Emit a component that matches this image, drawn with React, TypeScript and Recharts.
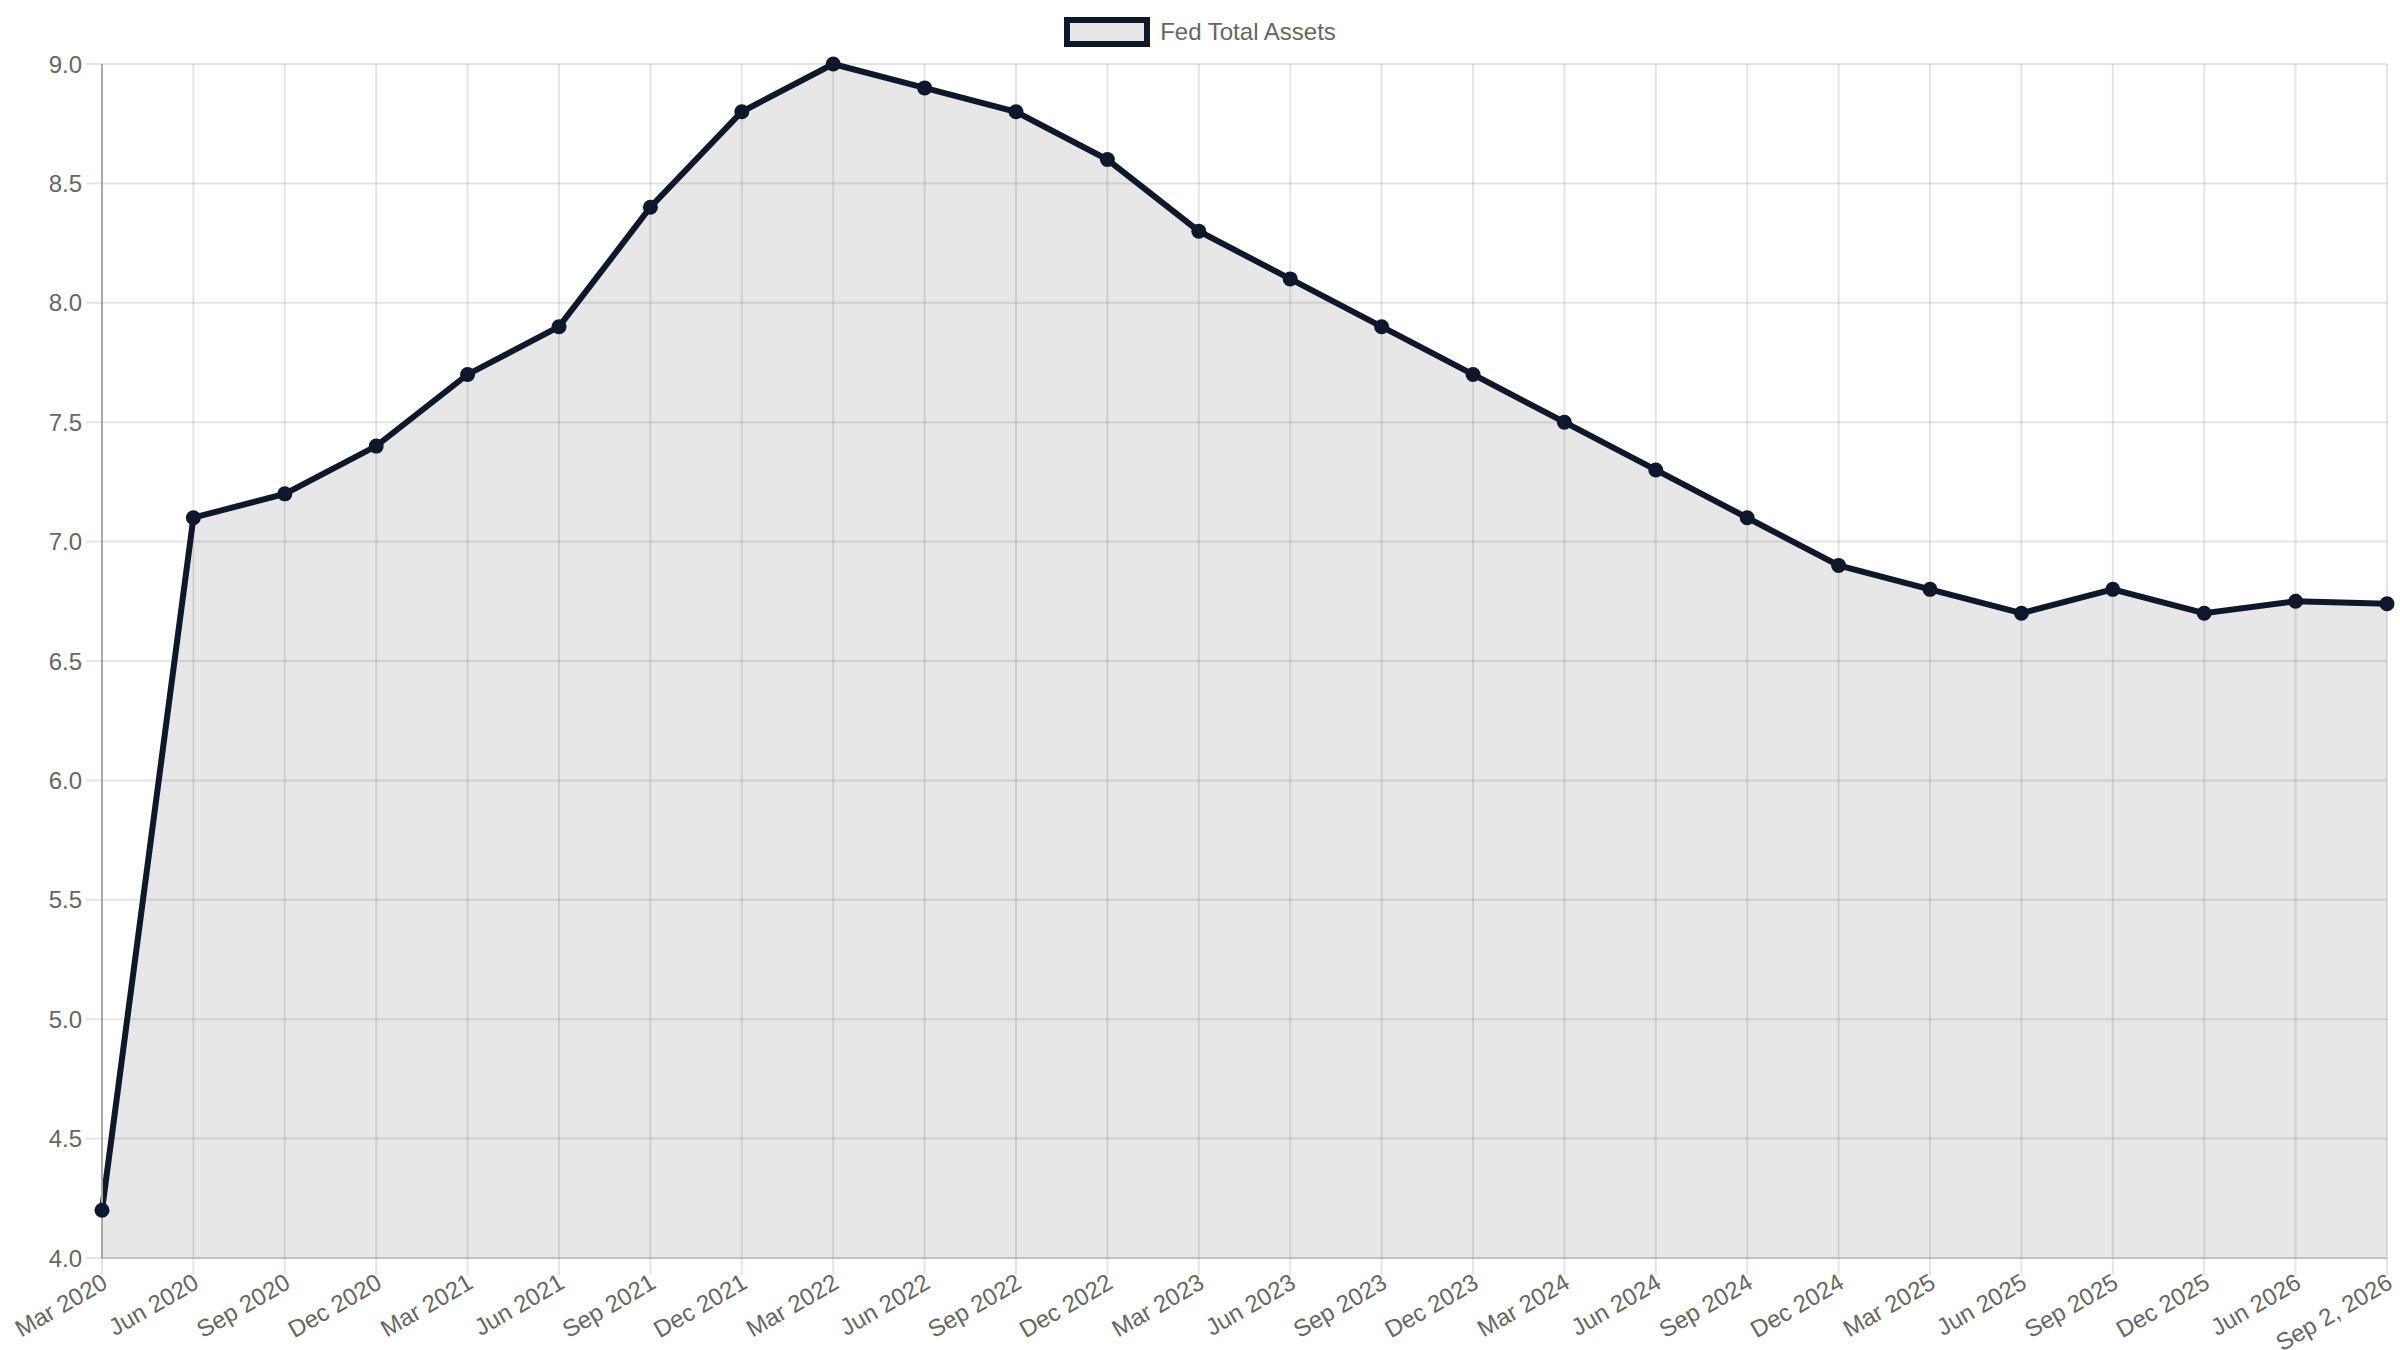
import React from "react";
import { AreaChart, Area, XAxis, YAxis, CartesianGrid } from "recharts";

const quarters = [
  "Mar 2020", "Jun 2020", "Sep 2020", "Dec 2020",
  "Mar 2021", "Jun 2021", "Sep 2021", "Dec 2021",
  "Mar 2022", "Jun 2022", "Sep 2022", "Dec 2022",
  "Mar 2023", "Jun 2023", "Sep 2023", "Dec 2023",
  "Mar 2024", "Jun 2024", "Sep 2024", "Dec 2024",
  "Mar 2025", "Jun 2025", "Sep 2025", "Dec 2025",
  "Jun 2026", "Sep 2, 2026",
];

// Fed total assets, trillions USD
const assets = [
  4.2, 7.1, 7.2, 7.4,
  7.7, 7.9, 8.4, 8.8,
  9.0, 8.9, 8.8, 8.6,
  8.3, 8.1, 7.9, 7.7,
  7.5, 7.3, 7.1, 6.9,
  6.8, 6.7, 6.8, 6.7,
  6.75, 6.74,
];

const yTicks = [4, 4.5, 5, 5.5, 6, 6.5, 7, 7.5, 8, 8.5, 9];

const seriesName = "Fed Total Assets";

const data = quarters.map((q, i) => ({ quarter: q, value: assets[i] }));

const FONT = "'Liberation Sans', Arial, Helvetica, sans-serif";
const NAVY = "#0f172a";
const GRID = "rgba(0,0,0,0.1)";

function AngledTick({ x, y, payload }: any) {
  return (
    <g transform={`translate(${x},${y})`}>
      <text
        x={0}
        y={0}
        dy={14}
        textAnchor="end"
        fill="#666"
        fontSize={24}
        fontFamily={FONT}
        transform="rotate(-30)"
      >
        {payload.value}
      </text>
    </g>
  );
}

function Dot({ cx, cy, index }: any) {
  if (cx == null || cy == null) return null;
  return <circle key={`dot-${index}`} cx={cx} cy={cy} r={7.5} fill={NAVY} />;
}

export default function App() {
  return (
    <div
      style={{
        position: "absolute",
        left: 0,
        top: 0,
        width: 2400,
        height: 1350,
        background: "#fff",
        fontFamily: FONT,
      }}
    >
      <div
        style={{
          position: "absolute",
          top: 17,
          left: 0,
          width: 2400,
          height: 30,
          display: "flex",
          justifyContent: "center",
          alignItems: "center",
        }}
      >
        <div
          style={{
            boxSizing: "border-box",
            width: 86,
            height: 30,
            border: `6px solid ${NAVY}`,
            background: "rgba(15,23,42,0.1)",
          }}
        />
        <span style={{ marginLeft: 10, fontSize: 24, color: "#666" }}>{seriesName}</span>
      </div>
      <AreaChart
        width={2400}
        height={1350}
        data={data}
        margin={{ top: 64, right: 13, left: 0, bottom: 0 }}
      >
        <CartesianGrid stroke={GRID} strokeWidth={2} />
        <XAxis
          dataKey="quarter"
          interval={0}
          height={92}
          tickSize={17}
          tickMargin={0}
          tickLine={{ stroke: GRID, strokeWidth: 2 }}
          axisLine={{ stroke: "#c2c2c2", strokeWidth: 2 }}
          tick={<AngledTick />}
        />
        <YAxis
          width={102}
          domain={[4, 9]}
          ticks={yTicks}
          interval={0}
          tickFormatter={(v: number) => v.toFixed(1)}
          tickSize={16}
          tickMargin={4}
          tickLine={{ stroke: GRID, strokeWidth: 2 }}
          axisLine={{ stroke: "#a8a8a8", strokeWidth: 2 }}
          tick={{ fill: "#666", fontSize: 24, fontFamily: FONT }}
        />
        <Area
          type="linear"
          dataKey="value"
          name={seriesName}
          stroke={NAVY}
          strokeWidth={6}
          fill={NAVY}
          fillOpacity={0.1}
          dot={<Dot />}
          activeDot={false}
          isAnimationActive={false}
        />
      </AreaChart>
    </div>
  );
}
